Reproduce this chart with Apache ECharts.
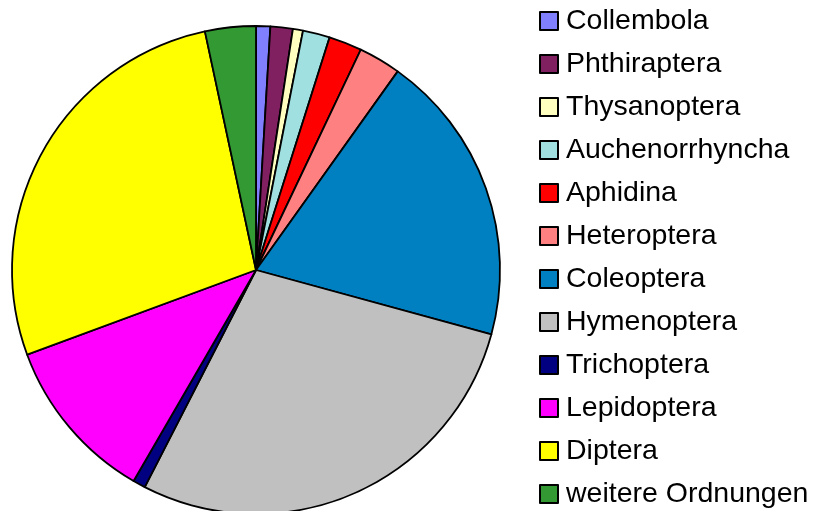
<!DOCTYPE html>
<html>
<head>
<meta charset="utf-8">
<script src="https://cdn.jsdelivr.net/npm/echarts@6/dist/echarts.min.js"></script>
<style>
  html, body { margin: 0; padding: 0; background: #fff; }
  #chart { width: 815px; height: 511px; }
</style>
</head>
<body>
<div id="chart"></div>
<script>
// Ordnungen (Anteile in %, aus der Grafik abgeschätzt)
const categories = ['Collembola', 'Phthiraptera', 'Thysanoptera', 'Auchenorrhyncha', 'Aphidina',
  'Heteroptera', 'Coleoptera', 'Hymenoptera', 'Trichoptera', 'Lepidoptera', 'Diptera', 'weitere Ordnungen'];
const values = [0.94, 1.48, 0.67, 1.79, 2.19, 2.8, 19.4, 28.3, 0.83, 11.0, 27.3, 3.36];
const colors = ['#8080ff', '#802060', '#ffffc0', '#a0e0e0', '#ff0000', '#ff8080',
  '#0080c0', '#c0c0c0', '#000080', '#ff00ff', '#ffff00', '#339933'];

const chart = echarts.init(document.getElementById('chart'));

chart.setOption({
  animation: false,
  color: colors,
  legend: {
    orient: 'vertical',
    left: 539,
    top: 6.5,
    height: 520,
    padding: 0,
    itemWidth: 18,
    itemHeight: 18,
    itemGap: 14,
    icon: 'rect',
    itemStyle: { borderColor: '#000', borderWidth: 2 },
    textStyle: {
      fontFamily: 'Liberation Sans, Arial, sans-serif',
      fontSize: 28.5,
      lineHeight: 28,
      color: '#000',
      padding: [0, 0, 0, 3]
    },
    data: categories
  },
  series: [{
    type: 'pie',
    center: [256, 270],
    radius: 244,
    startAngle: 90,
    clockwise: true,
    label: { show: false },
    labelLine: { show: false },
    emphasis: { disabled: true },
    itemStyle: { borderColor: '#000', borderWidth: 1.8 },
    data: categories.map((name, i) => ({ name: name, value: values[i] }))
  }]
});
</script>
</body>
</html>
